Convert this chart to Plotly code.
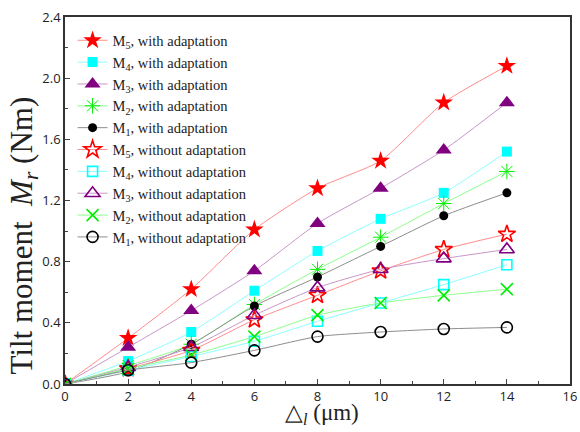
import plotly.graph_objects as go

x = [0, 2, 4, 6, 8, 10, 12, 14]

m5_with = [0, 0.30, 0.62, 1.01, 1.28, 1.46, 1.84, 2.08]
m4_with = [0, 0.15, 0.34, 0.61, 0.87, 1.08, 1.25, 1.52]
m3_with = [0, 0.24, 0.48, 0.74, 1.05, 1.28, 1.53, 1.84]
m2_with = [0, 0.12, 0.26, 0.52, 0.75, 0.96, 1.18, 1.39]
m1_with = [0, 0.08, 0.26, 0.51, 0.70, 0.90, 1.10, 1.25]
m5_without = [0, 0.10, 0.22, 0.42, 0.58, 0.74, 0.88, 0.98]
m4_without = [0, 0.09, 0.18, 0.28, 0.41, 0.53, 0.65, 0.78]
m3_without = [0, 0.11, 0.24, 0.45, 0.63, 0.75, 0.82, 0.88]
m2_without = [0, 0.10, 0.19, 0.31, 0.45, 0.53, 0.58, 0.62]
m1_without = [0, 0.09, 0.14, 0.22, 0.31, 0.34, 0.36, 0.37]

names = [
    "M<sub>5</sub>, with adaptation",
    "M<sub>4</sub>, with adaptation",
    "M<sub>3</sub>, with adaptation",
    "M<sub>2</sub>, with adaptation",
    "M<sub>1</sub>, with adaptation",
    "M<sub>5</sub>, without adaptation",
    "M<sub>4</sub>, without adaptation",
    "M<sub>3</sub>, without adaptation",
    "M<sub>2</sub>, without adaptation",
    "M<sub>1</sub>, without adaptation",
]
series = [m5_with, m4_with, m3_with, m2_with, m1_with,
          m5_without, m4_without, m3_without, m2_without, m1_without]

x_title = "△<sub><i>l</i></sub> (μm)"
y_title = "Tilt moment  <i>M<sub>r</sub></i> (Nm)"

line_colors = ["#ff8c8c", "#8cffff", "#c896c8", "#8cff8c", "#8c8c8c"] * 2
marker_colors = ["#ff0000", "#00ffff", "#800080", "#00ee00", "#000000"] * 2
symbols = ["star", "square", "triangle-up", "asterisk-open", "circle",
           "star-open", "square-open", "triangle-up-open", "x-thin-open", "circle-open"]
sizes = [14, 10, 14, 13, 9, 13, 10, 13, 12, 11]

fig = go.Figure()
for i, (nm, ys) in enumerate(zip(names, series)):
    filled = i < 5 and symbols[i] != "asterisk-open"
    mk = dict(symbol=symbols[i], size=sizes[i], color=marker_colors[i],
              line=dict(color=marker_colors[i], width=0 if filled else 1.6))
    if symbols[i] == "asterisk-open":
        mk["line"]["width"] = 1
    fig.add_trace(go.Scatter(
        x=x, y=ys, name=nm, mode="lines+markers",
        line=dict(color=line_colors[i], width=1, shape="spline", smoothing=0.6),
        marker=mk,
    ))

fig.update_layout(
    width=580, height=432,
    margin=dict(l=65, r=10, t=17, b=48),
    paper_bgcolor="white", plot_bgcolor="white",
    showlegend=True,
    legend=dict(x=0.015, y=0.98, xanchor="left", yanchor="top",
                bgcolor="rgba(0,0,0,0)",
                font=dict(family="Liberation Serif", size=14.5, color="#222"),
                itemwidth=30, tracegroupgap=0),
    xaxis=dict(range=[0, 16], dtick=2, ticks="inside", ticklen=5, tickwidth=1.2,
               automargin=False, ticklabeloverflow="allow",
               minor=dict(dtick=1, ticks="inside", ticklen=3, tickwidth=1),
               showline=True, linecolor="#333", linewidth=1.5, mirror=True,
               showgrid=False, zeroline=False,
               tickfont=dict(family="Open Sans", size=13, color="#222")),
    yaxis=dict(range=[0, 2.4], dtick=0.4, tickformat=".1f", ticks="inside",
               ticklen=5, tickwidth=1.2, automargin=False, ticklabeloverflow="allow",
               minor=dict(dtick=0.2, ticks="inside", ticklen=3, tickwidth=1),
               showline=True, linecolor="#333", linewidth=1.5, mirror=True,
               showgrid=False, zeroline=False,
               tickfont=dict(family="Open Sans", size=13, color="#222")),
    annotations=[
        dict(text=x_title, xref="paper", yref="paper", x=0.509, y=-0.081,
             xanchor="center", yanchor="middle", showarrow=False,
             font=dict(family="Liberation Serif", size=23, color="#222")),
        dict(text=y_title, xref="paper", yref="paper", x=-0.081, y=0.405,
             xanchor="center", yanchor="middle", showarrow=False, textangle=-90,
             font=dict(family="Liberation Serif", size=31, color="#222")),
    ],
)

fig.write_html(
    "out.html",
    config={"displayModeBar": False},
    post_script="document.body.style.margin='0'; document.body.style.overflow='hidden';",
)
